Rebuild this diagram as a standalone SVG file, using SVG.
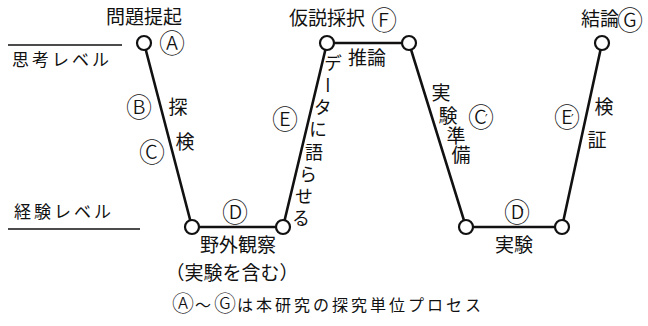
<svg xmlns="http://www.w3.org/2000/svg" width="648" height="326" viewBox="0 0 648 326">
<style>
.t{font-family:"Noto Sans CJK JP","Noto Sans",sans-serif;font-size:19px;fill:#111;text-anchor:middle}
.v{font-family:"Noto Sans CJK JP","Noto Sans",sans-serif;font-size:18px;fill:#111;writing-mode:vertical-rl}
.l{font-family:"Noto Sans CJK JP","Noto Sans",sans-serif;font-size:17px;fill:#111;letter-spacing:3px}
.c{font-family:"Noto Sans CJK JP",sans-serif;font-size:26px;font-weight:300;fill:#111;text-anchor:middle}
.pr{font-family:"DejaVu Sans",sans-serif;font-size:12px;font-weight:400}
.edge{stroke:#111;stroke-width:2.6;fill:none;stroke-linecap:round}
.node{fill:#fff;stroke:#111;stroke-width:2.2}
.lvl{stroke:#111;stroke-width:1.5}
.cap{font-family:"Noto Sans CJK JP","Noto Sans",sans-serif;font-size:16px;fill:#111;letter-spacing:3px}
.capc{font-size:22px;font-weight:300;letter-spacing:1px}
</style>
<rect width="648" height="326" fill="#fff"/>
<g id="levels">
<line class="lvl" x1="8" y1="45" x2="122" y2="45"/>
<text class="l" x="12" y="66">思考レベル</text>
<text class="l" x="14" y="218">経験レベル</text>
<line class="lvl" x1="8" y1="229" x2="140" y2="229"/>
</g>
<g id="connectors">
<path class="edge" d="M144,43 L192,227 L283,227 L327,43 L409,43 L466,227 L562,227 L602,43"/>
</g>
<g id="nodeA">
<circle class="node" cx="144" cy="43" r="7"/>
<text class="t" x="144" y="24">問題提起</text>
<text class="c" x="172" y="52.5">Ⓐ</text>
</g>
<g id="nodeD1">
<circle class="node" cx="192" cy="227" r="7"/>
</g>
<g id="nodeD2">
<circle class="node" cx="283" cy="227" r="7"/>
<text class="t" x="238" y="252">野外観察</text>
<text class="t" x="232" y="280">（実験を含む）</text>
</g>
<g id="nodeF1">
<circle class="node" cx="327" cy="43" r="7"/>
<text class="t" x="327" y="25">仮説採択</text>
<text class="c" x="384" y="29.5">Ⓕ</text>
</g>
<g id="nodeF2">
<circle class="node" cx="409" cy="43" r="7"/>
</g>
<g id="nodeDp1">
<circle class="node" cx="466" cy="227" r="7"/>
</g>
<g id="nodeDp2">
<circle class="node" cx="562" cy="227" r="7"/>
<text class="t" x="514" y="252">実験</text>
</g>
<g id="nodeG">
<circle class="node" cx="602" cy="43" r="7"/>
<text class="t" x="600" y="26">結論</text>
<text class="c" x="630" y="29.5">Ⓖ</text>
</g>
<g id="labels">
<text class="c" x="139" y="116.5">Ⓑ</text>
<text class="t" x="178" y="114">探</text>
<text class="t" x="185" y="149">検</text>
<text class="c" x="152" y="161.5">Ⓒ</text>
<text class="c" x="235" y="221.5">Ⓓ</text>
<text class="c" x="285" y="128.5">Ⓔ</text>
<text class="v" x="333" y="54" dx="0 -5 -5 -5 -4 -6 -4 -3" style="letter-spacing:4.2px">データに語らせる</text>
<text class="t" x="367" y="65">推論</text>
<text class="v" x="441" y="83" dx="0 7 8 5" style="font-size:19px" dy="0 4 1 0">実験準備</text>
<text class="c" x="481" y="126.5">Ⓒ<tspan class="pr" dx="-9" dy="-4">′</tspan></text>
<text class="c" x="517" y="221.5">Ⓓ<tspan class="pr" dx="-9" dy="-4">′</tspan></text>
<text class="c" x="567" y="126.5">Ⓔ<tspan class="pr" dx="-9" dy="-4">′</tspan></text>
<text class="t" x="604" y="114">検</text>
<text class="t" x="597" y="147">証</text>
</g>
<g id="caption">
<text class="cap" x="172" y="311"><tspan class="capc">Ⓐ</tspan>～<tspan class="capc">Ⓖ</tspan>は本研究の探究単位プロセス</text>
</g>
</svg>
